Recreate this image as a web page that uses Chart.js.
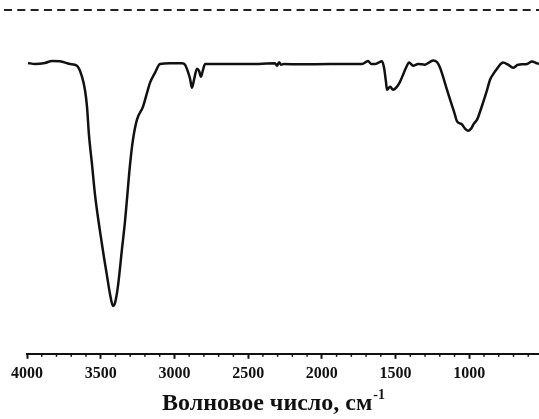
<!DOCTYPE html>
<html>
<head>
<meta charset="utf-8">
<script src="https://cdn.jsdelivr.net/npm/chart.js@4.4.1/dist/chart.umd.min.js"></script>
<style>
  html, body { margin: 0; padding: 0; background: #fff; }
  #wrap { width: 539px; height: 419px; }
</style>
</head>
<body>
<div id="wrap"><canvas id="c" width="539" height="419"></canvas></div>
<script>
// ---- data ----
const waveNumbers = [3993,3946,3878,3830,3776,3708,3661,3627,3607,3593,3580,3559,3539,3505,3478,3457,3437,3417,3403,3383,3356,3335,3322,3301,3281,3254,3213,3186,3166,3132,3098,3030,2948,2928,2908,2894,2881,2867,2847,2833,2820,2806,2792,2691,2487,2318,2304,2290,2277,2257,2148,1944,1809,1727,1700,1687,1666,1639,1619,1592,1578,1565,1558,1537,1517,1490,1470,1449,1429,1408,1381,1347,1300,1266,1246,1218,1198,1178,1151,1130,1103,1083,1049,1029,1008,988,968,947,927,907,879,859,832,812,791,771,737,703,669,635,608,574,547,527];
const transmittance = [84.6,84.3,84.6,85.2,85.1,84.3,83.8,80.6,76.8,71.9,63.8,55.1,46.4,35.7,28.1,22.6,17.4,13.9,14.8,19.7,30.4,38.6,44.9,55.1,62.3,68.1,71.9,75.9,78.8,81.7,84.3,84.5,84.5,84.1,82.0,80.0,77.4,79.7,82.9,82.3,80.6,82.6,84.3,84.3,84.3,84.5,83.8,84.8,84.1,84.3,84.2,84.3,84.3,84.3,84.9,85.2,84.3,84.3,84.6,85.1,83.2,79.1,76.8,77.7,76.8,77.7,79.1,81.2,83.2,84.7,83.8,84.3,84.1,84.9,85.3,84.8,83.2,80.6,76.8,73.9,70.4,67.6,66.7,65.5,64.9,65.5,67.0,68.1,70.4,73.0,76.8,79.7,81.7,82.9,84.1,84.7,84.1,83.2,84.1,84.2,84.3,85.0,84.6,84.3];
const majorTicks = [4000,3500,3000,2500,2000,1500,1000];
const minorStep = 100;
const xTitle = 'Волновое число, см';
const xTitleSup = '-1';
const dashedLevel = 100;

const points = waveNumbers.map((w, i) => ({x: w, y: transmittance[i]}));
const serif = '"Liberation Serif", "Times New Roman", serif';

const decorPlugin = {
  id: 'decor',
  afterDraw(chart) {
    const ctx = chart.ctx;
    const xs = chart.scales.x, ys = chart.scales.y;
    ctx.save();
    // minor ticks
    ctx.strokeStyle = '#111';
    ctx.lineWidth = 1.5;
    const axisY = xs.top;
    for (let v = 4000; v >= xs.min; v -= minorStep) {
      if (v % 500 === 0) continue;
      const px = xs.getPixelForValue(v);
      ctx.beginPath();
      ctx.moveTo(px, axisY);
      ctx.lineTo(px, axisY + 3);
      ctx.stroke();
    }
    // dashed separator line
    const yy = ys.getPixelForValue(dashedLevel);
    ctx.setLineDash([8, 5.3]);
    ctx.lineWidth = 2;
    ctx.strokeStyle = '#222';
    ctx.beginPath();
    ctx.moveTo(4, yy);
    ctx.lineTo(chart.width, yy);
    ctx.stroke();
    ctx.setLineDash([]);
    // title with superscript
    ctx.fillStyle = '#111';
    ctx.textBaseline = 'alphabetic';
    ctx.font = 'bold 24px ' + serif;
    const w1 = ctx.measureText(xTitle).width;
    ctx.font = 'bold 14px ' + serif;
    const w2 = ctx.measureText(xTitleSup).width;
    const cx = (xs.left + xs.right) / 2 - 10;
    const startX = cx - (w1 + w2) / 2;
    const baseY = 410;
    ctx.font = 'bold 24px ' + serif;
    ctx.fillText(xTitle, startX, baseY);
    ctx.font = 'bold 14px ' + serif;
    ctx.fillText(xTitleSup, startX + w1 + 1, baseY - 11);
    ctx.restore();
  }
};

new Chart(document.getElementById('c'), {
  type: 'line',
  data: {
    datasets: [{
      data: points,
      borderColor: '#111',
      borderWidth: 2.5,
      pointRadius: 0,
      fill: false,
      cubicInterpolationMode: 'monotone'
    }]
  },
  options: {
    responsive: false,
    animation: false,
    events: [],
    layout: { padding: { left: 27, right: 0, top: 10, bottom: 31 } },
    plugins: { legend: { display: false }, tooltip: { enabled: false } },
    scales: {
      x: {
        type: 'linear',
        reverse: true,
        min: 527,
        max: 4000,
        afterBuildTicks(scale) { scale.ticks = majorTicks.map(v => ({value: v})); },
        border: { display: true, color: '#111', width: 2 },
        grid: { drawOnChartArea: false, drawTicks: true, tickLength: 5, tickWidth: 2, tickColor: '#111' },
        ticks: {
          autoSkip: false,
          maxRotation: 0,
          padding: 5,
          color: '#111',
          callback: (v) => String(v),
          font: { family: serif, size: 16, weight: 'bold' }
        }
      },
      y: {
        display: false,
        min: 0,
        max: 100
      }
    }
  },
  plugins: [decorPlugin]
});
</script>
</body>
</html>
